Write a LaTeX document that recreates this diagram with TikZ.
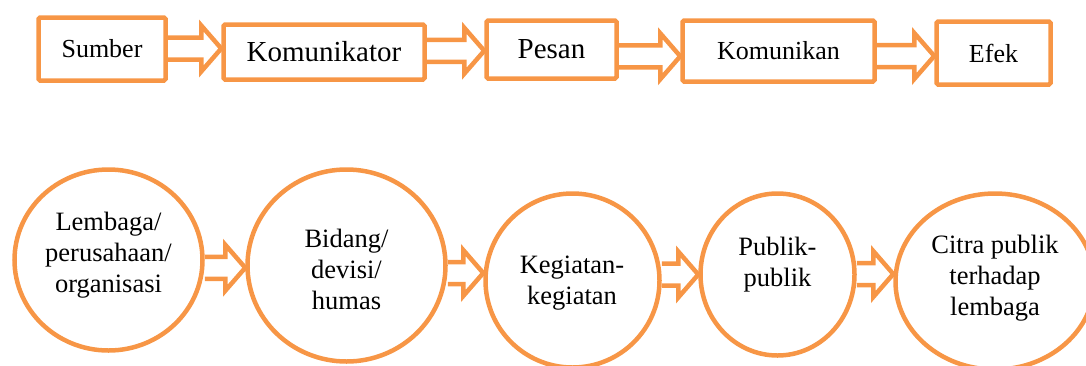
\documentclass[tikz,border=0pt]{standalone}
\usepackage{fontspec}
\setmainfont{Liberation Serif}
\usetikzlibrary{shapes.geometric,calc}
\definecolor{orng}{HTML}{F79646}

\begin{document}
\begin{tikzpicture}[x=1pt,y=-1pt,
	box/.style={draw=orng,line width=4.5pt,rounded corners=1.5pt,inner sep=0pt,font=\fontsize{26}{30}\selectfont},
	bigbox/.style={box,font=\fontsize{29}{32}\selectfont},
	oval/.style={draw=orng,line width=4.5pt,ellipse,inner sep=0pt},
	txt/.style={align=center,inner sep=0pt,font=\fontsize{26.5}{31}\selectfont},
	blk/.style={draw=orng,line width=4.5pt,to path={let \p1=(\tikztostart),\p2=(\tikztotarget),\n1={(\y1+\y2)/2} in
		(\x1,\n1+11pt) -- (\x2-20pt,\n1+11pt) -- (\x2-20pt,\n1+23pt) -- (\x2,\n1) -- (\x2-20pt,\n1-23pt) -- (\x2-20pt,\n1-11pt) -- (\x1,\n1-11pt)}}]
	\useasboundingbox (0,0) rectangle (1086,365);
	\node[box,minimum width=127pt,minimum height=63pt] (sumber) at (102,49) {Sumber};
	\node[bigbox,minimum width=201pt,minimum height=55pt] (komunikator) at (324,52) {Komunikator};
	\node[bigbox,minimum width=130pt,minimum height=58pt] (pesan) at (551.5,49.5) {Pesan};
	\node[box,minimum width=192pt,minimum height=61pt] (komunikan) at (778.5,51) {Komunikan};
	\node[box,minimum width=114pt,minimum height=63pt] (efek) at (993.5,53) {Efek};
	\foreach \a/\b/\d in {sumber/komunikator/2,komunikator/pesan/0,pesan/komunikan/-6,komunikan/efek/-4} \draw[blk] ([yshift=\d pt]\a.east) to ([yshift=\d pt]\b.west);
	\node[oval,minimum width=188pt,minimum height=181pt] (lembaga) at (108.5,260) {};
	\node[oval,minimum width=198pt,minimum height=192pt] (bidang) at (346.5,265.5) {};
	\node[oval,minimum width=174pt,minimum height=174pt] (kegiatan) at (572.5,280.5) {};
	\node[oval,minimum width=154pt,minimum height=162pt] (publik) at (777.5,274.5) {};
	\node[oval,minimum width=199pt,minimum height=176pt] (citra) at (995,281.5) {};
	\node[txt] (lembagatxt) at (108.5,255) {Lembaga/\\perusahaan/\\organisasi};
	\node[txt] (bidangtxt) at (346.5,269) {Bidang/\\devisi/\\humas};
	\node[txt] (kegiatantxt) at (572,283) {Kegiatan-\\kegiatan};
	\node[txt] (publiktxt) at (777.5,264.5) {Publik-\\publik};
	\node[txt] (citratxt) at (995,278.5) {Citra publik\\terhadap\\lembaga};
	\foreach \a/\b/\d in {lembaga/bidang/-5,bidang/kegiatan/0,kegiatan/publik/3,publik/citra/4} \draw[blk] ([yshift=\d pt]\a.east) to ([yshift=\d pt]\b.west);
\end{tikzpicture}
\end{document}
